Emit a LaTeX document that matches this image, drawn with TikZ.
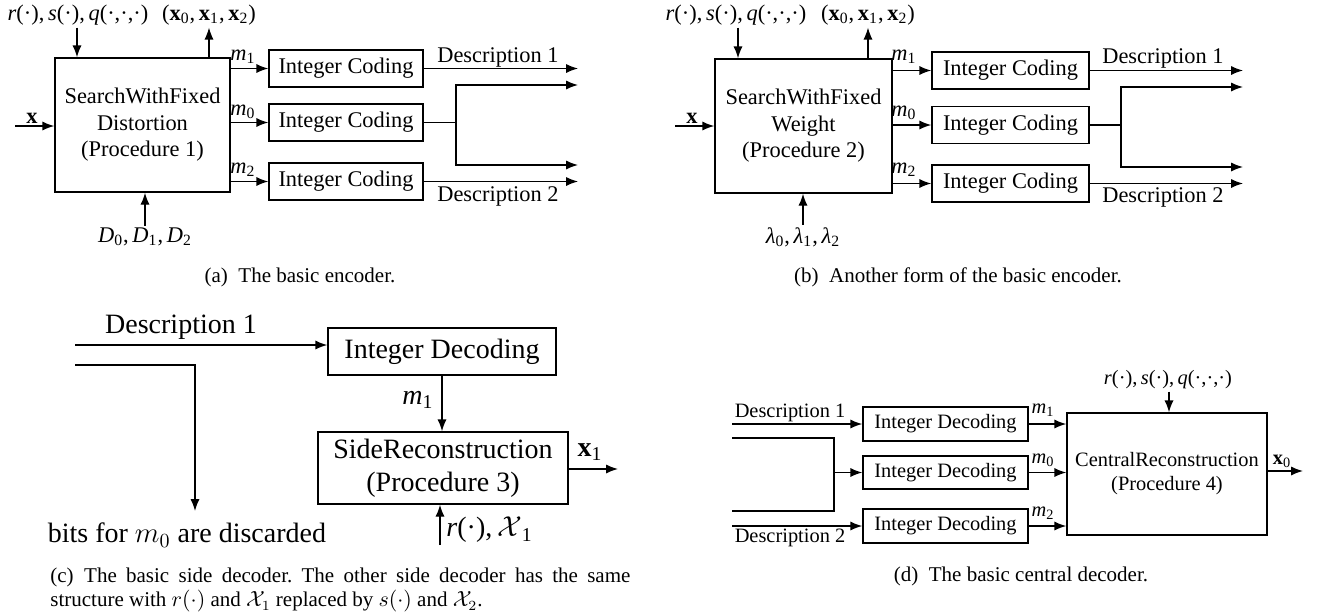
\documentclass[tikz,border=0pt]{standalone}
\usepackage{fontspec}
\setmainfont{Liberation Serif}
\usetikzlibrary{arrows.meta}
\newcommand\fA{\fontsize{11.2}{13.3}\selectfont}
\newcommand\fC{\fontsize{14}{16.5}\selectfont}
\newcommand\fD{\fontsize{10.2}{12}\selectfont}
\newcommand\fcap{\fontsize{10.5}{12}\selectfont}
\newcommand\rsq{\textit{r}(·),\,\textit{s}(·),\,\textit{q}(·,·,·)}
\newcommand\xtrip{(\textbf{x}\textsubscript{0},\,\textbf{x}\textsubscript{1},\,\textbf{x}\textsubscript{2})}
\newcommand\mm[1]{\textit{m}\textsubscript{#1}}
\begin{document}
\frenchspacing
\begin{tikzpicture}[x=0.5pt,y=-0.5pt,
  blk/.style={draw, line width=0.7pt, inner sep=0pt, align=center},
  lbl/.style={inner sep=1pt},
  arr/.style={-{Latex[length=6pt,width=4.6pt]}, line width=0.7pt},
  ln/.style={line width=0.7pt}]
\useasboundingbox (0,0) rectangle (1319,616);

% ---------------- (a) ----------------
\begin{scope}[font=\fA]
\node[blk, minimum width=87.5pt, minimum height=67pt] (A) at (142.5,125) {SearchWithFixed\\Distortion\\(Procedure 1)};
\node[blk, minimum width=77pt, minimum height=18.5pt] (A1) at (346,68.5) {Integer Coding};
\node[blk, minimum width=77pt, minimum height=18.5pt] (A0) at (346,122.5) {Integer Coding};
\node[blk, minimum width=77pt, minimum height=18.5pt] (A2) at (346,181.5) {Integer Coding};
\draw[arr] (A.east |- A1) -- (A1);
\draw[arr] (A.east |- A0) -- (A0);
\draw[arr] (A.east |- A2) -- (A2);
\node[lbl] at (243,57) {\mm{1}};
\node[lbl] at (243,112) {\mm{0}};
\node[lbl] at (243,170) {\mm{2}};
\node[lbl] (Arsq) at (78,15) {\rsq};
\draw[arr] (Arsq.south -| 77,0) -- (77,0 |- A.north);
\node[lbl] (Axo) at (209,15) {\xtrip};
\draw[arr] (A.north -| Axo) -- (Axo);
\coordinate (Ax) at (15,126);
\draw[arr] (Ax) -- (Ax -| A.west);
\node[lbl] at (32,118) {\textbf{x}};
\node[lbl] (AD) at (145,237) {\textit{D}\textsubscript{0},\,\textit{D}\textsubscript{1},\,\textit{D}\textsubscript{2}};
\draw[arr] (AD) -- (AD |- A.south);
\coordinate (Ae) at (578,68.5);
\coordinate (Aj) at (456,122.5);
\coordinate (Ajt) at (456,85);
\coordinate (Ajb) at (456,165);
\draw[arr] (A1) -- (Ae);
\draw[ln] (A0) -- (Aj);
\draw[arr] (Aj) -- (Ajt) -- (Ajt -| Ae);
\draw[arr] (Aj) -- (Ajb) -- (Ajb -| Ae);
\draw[arr] (A2) -- (A2 -| Ae);
\node[lbl] at (498,57) {Description 1};
\node[lbl] at (498,196) {Description 2};
\end{scope}
\node[font=\fcap] at (300,277) {(a)\hspace{0.5em}The basic encoder.};

% ---------------- (b) ----------------
\begin{scope}[font=\fA]
\node[blk, minimum width=88.5pt, minimum height=67pt] (B) at (803.5,126) {SearchWithFixed\\Weight\\(Procedure 2)};
\node[blk, minimum width=78.5pt, minimum height=18.5pt] (B1) at (1010.5,70.5) {Integer Coding};
\node[blk, minimum width=78.5pt, minimum height=18.5pt] (B0) at (1010.5,125) {Integer Coding};
\node[blk, minimum width=78.5pt, minimum height=18.5pt] (B2) at (1010.5,183.5) {Integer Coding};
\draw[arr] (B.east |- B1) -- (B1);
\draw[arr] (B.east |- B0) -- (B0);
\draw[arr] (B.east |- B2) -- (B2);
\node[lbl] at (904,57) {\mm{1}};
\node[lbl] at (904,113) {\mm{0}};
\node[lbl] at (904,170) {\mm{2}};
\node[lbl] (Brsq) at (736,15) {\rsq};
\draw[arr] (Brsq.south -| 738,0) -- (738,0 |- B.north);
\node[lbl] (Bxo) at (868,15) {\xtrip};
\draw[arr] (B.north -| Bxo) -- (Bxo);
\coordinate (Bx) at (675,126);
\draw[arr] (Bx) -- (Bx -| B.west);
\node[lbl] at (692,118) {\textbf{x}};
\node[lbl] (BL) at (803,237) {\textit{λ}\textsubscript{0},\,\textit{λ}\textsubscript{1},\,\textit{λ}\textsubscript{2}};
\draw[arr] (BL) -- (BL |- B.south);
\coordinate (Be) at (1243,70.5);
\coordinate (Bj) at (1121,125);
\coordinate (Bjt) at (1121,87);
\coordinate (Bjb) at (1121,167);
\draw[arr] (B1) -- (Be);
\draw[ln] (B0) -- (Bj);
\draw[arr] (Bj) -- (Bjt) -- (Bjt -| Be);
\draw[arr] (Bj) -- (Bjb) -- (Bjb -| Be);
\draw[arr] (B2) -- (B2 -| Be);
\node[lbl] at (1163,58) {Description 1};
\node[lbl] at (1163,197) {Description 2};
\end{scope}
\node[font=\fcap] at (958,277) {(b)\hspace{0.5em}Another form of the basic encoder.};

% ---------------- (c) ----------------
\begin{scope}[font=\fC]
\node[blk, minimum width=114pt, minimum height=23.5pt] (C1) at (442,351.5) {Integer Decoding};
\node[blk, minimum width=125pt, minimum height=36pt] (CS) at (443,468) {SideReconstruction\\(Procedure 3)};
\coordinate (Cd1) at (75,345);
\draw[arr] (Cd1) -- (Cd1 -| C1.west);
\node[lbl] at (181,327) {Description 1};
\coordinate (Cd2) at (75,365);
\coordinate (Ck) at (195,365);
\coordinate (Cdn) at (195,511);
\draw[arr] (Cd2) -- (Ck) -- (Cdn);
\node[lbl] at (187,535) {bits for $m_0$ are discarded};
\draw[arr] (C1.south -| 442,0) -- (442,0 |- CS.north);
\node[lbl] at (418,400) {\mm{1}};
\coordinate (Cx) at (618,469);
\draw[arr] (CS.east |- Cx) -- (Cx);
\node[lbl] at (590,452) {\textbf{x}\textsubscript{1}};
\coordinate (Cr) at (440,545);
\draw[arr] (Cr) -- (Cr |- CS.south);
\node[lbl, anchor=west] at (444,530) {\textit{r}(·),\,$\mathcal{X}$\textsubscript{1}};
\end{scope}
\node[font=\fcap, text width=290pt, align=justify, anchor=north west, inner sep=0pt] at (50,568)
 {(c)\hspace{0.5em}The basic side decoder. The other side decoder has the same\linebreak structure with $r(\cdot)$ and $\mathcal{X}_1$ replaced by $s(\cdot)$ and $\mathcal{X}_2$.};

% ---------------- (d) ----------------
\begin{scope}[font=\fD]
\node[blk, minimum width=82.5pt, minimum height=17pt] (D1) at (945.5,424) {Integer Decoding};
\node[blk, minimum width=82.5pt, minimum height=16.5pt] (D0) at (945.5,472.5) {Integer Decoding};
\node[blk, minimum width=82.5pt, minimum height=17pt] (D2) at (945.5,526) {Integer Decoding};
\node[blk, minimum width=100pt, minimum height=61pt] (CR) at (1167,474) {CentralReconstruction\\(Procedure 4)};
\coordinate (Ds1) at (732,424);
\draw[arr] (Ds1) -- (D1);
\node[lbl] at (790,413) {Description 1};
\coordinate (Dbt) at (732,438);
\coordinate (Dbb) at (732,511);
\coordinate (Dbj) at (834,472.5);
\draw[ln] (Dbt) -- (Dbt -| Dbj) -- (Dbb -| Dbj) -- (Dbb);
\draw[arr] (Dbj) -- (D0);
\coordinate (Ds2) at (732,526);
\draw[arr] (Ds2) -- (D2);
\node[lbl] at (790,538) {Description 2};
\draw[arr] (D1) -- (D1 -| CR.west);
\draw[arr] (D0) -- (D0 -| CR.west);
\draw[arr] (D2) -- (D2 -| CR.west);
\node[lbl] at (1043,410) {\mm{1}};
\node[lbl] at (1043,460) {\mm{0}};
\node[lbl] at (1043,513) {\mm{2}};
\node[lbl] (Drsq) at (1168,380) {\rsq};
\draw[arr] (Drsq.south -| 1169,0) -- (1169,0 |- CR.north);
\coordinate (Dx) at (1303,471);
\draw[arr] (CR.east |- Dx) -- (Dx);
\node[lbl] at (1282,461) {\textbf{x}\textsubscript{0}};
\end{scope}
\node[font=\fcap] at (1021,576) {(d)\hspace{0.5em}The basic central decoder.};
\end{tikzpicture}
\end{document}
